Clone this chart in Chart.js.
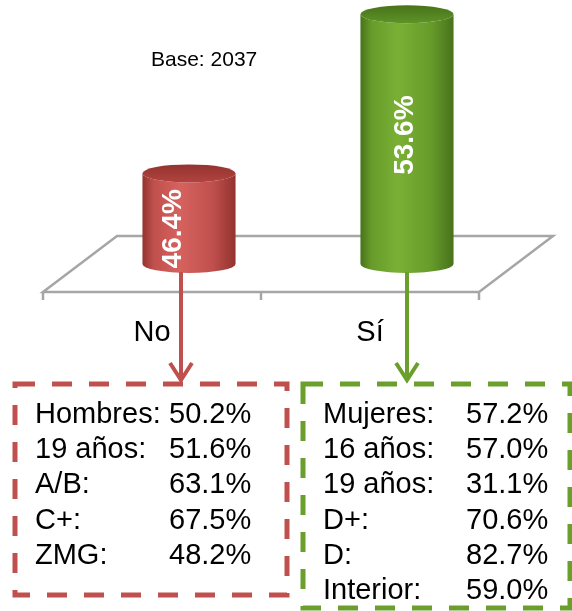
<!DOCTYPE html>
<html>
<head>
<meta charset="utf-8">
<script src="https://cdn.jsdelivr.net/npm/chart.js@4.4.1/dist/chart.umd.min.js"></script>
<style>
  html, body { margin: 0; padding: 0; background: #fff; }
  canvas { display: block; }
</style>
</head>
<body>
<canvas id="myChart" width="572" height="611"></canvas>
<script>
// datos
var categorias = ['No', 'Sí'];
var porcentajes = [46.4, 53.6];
var baseTexto = 'Base: 2037';

var etiquetasNo = ['Hombres:', '19 años:', 'A/B:', 'C+:', 'ZMG:'];
var valoresNo = [50.2, 51.6, 63.1, 67.5, 48.2];
var etiquetasSi = ['Mujeres:', '16 años:', '19 años:', 'D+:', 'D:', 'Interior:'];
var valoresSi = [57.2, 57.0, 31.1, 70.6, 82.7, 59.0];

var Y_MIN = 42.3, Y_MAX = 54.2;

// estilos por barra
var estilos = [
  { claro: '#d6625e', medio: '#c0504d', oscuro: '#93332f', tapa: '#b2433f', flecha: '#c0504d', dxTexto: -16, dyTexto: 10, dxFlecha: -8 },
  { claro: '#79b034', medio: '#679c2b', oscuro: '#47731a', tapa: '#5f9327', flecha: '#6b9f2c', dxTexto: -2, dyTexto: -4, dxFlecha: 0 }
];

var FUENTE = '"Liberation Sans", Arial, sans-serif';
var PROF_X = 37, PROF_Y = 28, RY = 9;

function pisoPlugin() {
  return {
    id: 'piso',
    beforeDatasetsDraw: function (chart) {
      var ctx = chart.ctx, a = chart.chartArea;
      var yb = a.bottom;
      ctx.save();
      ctx.strokeStyle = '#a6a6a6';
      ctx.lineWidth = 2.5;
      ctx.beginPath();
      ctx.moveTo(a.left - PROF_X, yb + PROF_Y);
      ctx.lineTo(a.left + PROF_X, yb - PROF_Y);
      ctx.lineTo(a.right + PROF_X, yb - PROF_Y);
      ctx.lineTo(a.right - PROF_X, yb + PROF_Y);
      ctx.closePath();
      ctx.stroke();
      // marcas del eje
      var xs = [a.left - PROF_X, (a.left + a.right) / 2 - PROF_X, a.right - PROF_X];
      ctx.beginPath();
      for (var i = 0; i < xs.length; i++) {
        ctx.moveTo(xs[i], yb + PROF_Y);
        ctx.lineTo(xs[i], yb + PROF_Y + 8);
      }
      ctx.stroke();
      ctx.restore();
    }
  };
}

function cilindro(ctx, bar, col) {
  var rx = bar.width / 2;
  var x0 = bar.x - rx, x1 = bar.x + rx;
  var g = ctx.createLinearGradient(x0, 0, x1, 0);
  g.addColorStop(0, col.oscuro);
  g.addColorStop(0.12, col.medio);
  g.addColorStop(0.4, col.claro);
  g.addColorStop(0.75, col.medio);
  g.addColorStop(1, col.oscuro);
  ctx.fillStyle = g;
  ctx.beginPath();
  ctx.moveTo(x0, bar.y);
  ctx.lineTo(x0, bar.base);
  ctx.ellipse(bar.x, bar.base, rx, RY, 0, Math.PI, 0, true);
  ctx.lineTo(x1, bar.y);
  ctx.ellipse(bar.x, bar.y, rx, RY, 0, 0, Math.PI, false);
  ctx.closePath();
  ctx.fill();

  var gt = ctx.createLinearGradient(0, bar.y - RY, 0, bar.y + RY);
  gt.addColorStop(0, col.oscuro);
  gt.addColorStop(1, col.tapa);
  ctx.fillStyle = gt;
  ctx.beginPath();
  ctx.ellipse(bar.x, bar.y, rx, RY, 0, 0, Math.PI * 2);
  ctx.fill();
}

function flecha(ctx, x, y0, y1, color) {
  ctx.save();
  ctx.strokeStyle = color;
  ctx.lineWidth = 4;
  ctx.beginPath();
  ctx.moveTo(x, y0);
  ctx.lineTo(x, y1);
  ctx.stroke();
  ctx.lineJoin = 'miter';
  ctx.beginPath();
  ctx.moveTo(x - 11, y1 - 17);
  ctx.lineTo(x, y1);
  ctx.lineTo(x + 11, y1 - 17);
  ctx.stroke();
  ctx.restore();
}

function caja(ctx, x, y, w, h, color, etiquetas, valores, xValor) {
  ctx.save();
  ctx.strokeStyle = color;
  ctx.lineWidth = 5;
  ctx.setLineDash([20, 17]);
  ctx.strokeRect(x, y, w, h);
  ctx.setLineDash([]);
  ctx.fillStyle = '#000';
  ctx.font = '29px ' + FUENTE;
  ctx.textBaseline = 'alphabetic';
  for (var i = 0; i < etiquetas.length; i++) {
    var yl = y + 39 + i * 35.2;
    ctx.fillText(etiquetas[i], x + 20, yl);
    ctx.fillText(valores[i].toFixed(1) + '%', xValor, yl);
  }
  ctx.restore();
}

function cilindrosPlugin() {
  return {
    id: 'cilindros',
    afterDatasetsDraw: function (chart) {
      var ctx = chart.ctx;
      var meta = chart.getDatasetMeta(0);
      ctx.save();
      meta.data.forEach(function (bar, i) {
        var p = bar.getProps(['x', 'y', 'base', 'width'], true);
        var col = estilos[i];
        cilindro(ctx, p, col);
        flecha(ctx, p.x + col.dxFlecha, p.base + RY - 1, 380, col.flecha);
        // etiqueta de datos
        ctx.save();
        ctx.translate(p.x + col.dxTexto, (p.y + p.base) / 2 + col.dyTexto);
        ctx.rotate(-Math.PI / 2);
        ctx.fillStyle = '#fff';
        ctx.font = 'bold 28px ' + FUENTE;
        ctx.textAlign = 'center';
        ctx.textBaseline = 'middle';
        ctx.fillText(porcentajes[i].toFixed(1) + '%', 0, 0);
        ctx.restore();
      });
      ctx.fillStyle = '#000';
      ctx.font = '21px ' + FUENTE;
      ctx.fillText(baseTexto, 151, 66);
      caja(ctx, 15, 384, 272, 211, estilos[0].flecha, etiquetasNo, valoresNo, 169);
      caja(ctx, 303, 384, 267, 224, estilos[1].flecha, etiquetasSi, valoresSi, 466);
      ctx.restore();
    }
  };
}

var grafica = new Chart(document.getElementById('myChart').getContext('2d'), {
  type: 'bar',
  data: {
    labels: categorias,
    datasets: [{
      data: porcentajes,
      base: Y_MIN,
      backgroundColor: 'rgba(0,0,0,0)',
      borderWidth: 0,
      categoryPercentage: 1,
      barPercentage: 0.427
    }]
  },
  options: {
    responsive: false,
    animation: false,
    devicePixelRatio: 1,
    layout: { padding: { left: 80, right: 56, top: 1, bottom: 209 } },
    plugins: { legend: { display: false }, tooltip: { enabled: false } },
    scales: {
      x: {
        grid: { display: false, drawTicks: false },
        border: { display: false },
        ticks: {
          color: '#000',
          font: { family: FUENTE, size: 29 },
          padding: 51.6,
          labelOffset: -PROF_X
        }
      },
      y: {
        display: false,
        min: Y_MIN,
        max: Y_MAX
      }
    }
  },
  plugins: [pisoPlugin(), cilindrosPlugin()]
});
</script>
</body>
</html>
